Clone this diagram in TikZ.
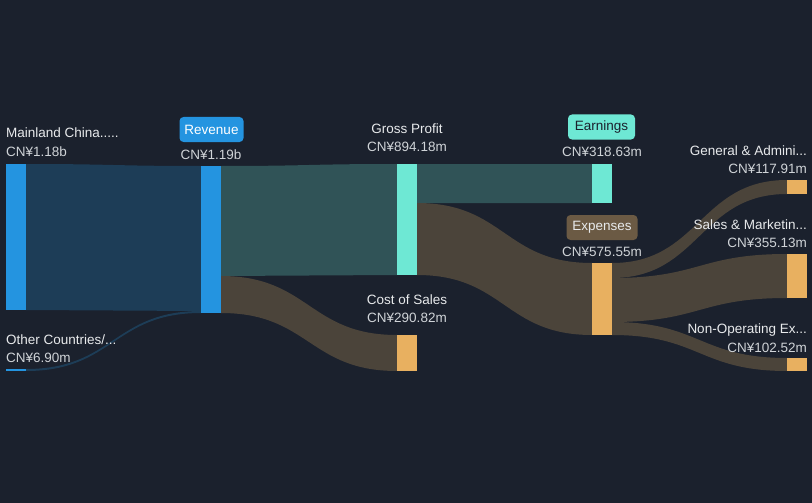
\documentclass[tikz,border=0pt]{standalone}
\usepackage{fontspec}
\setmainfont{Liberation Sans}
\definecolor{bg}{RGB}{27,33,45}
\definecolor{barblue}{RGB}{36,148,224}
\definecolor{barteal}{RGB}{110,232,212}
\definecolor{barorange}{RGB}{232,176,96}
\definecolor{flowblue}{RGB}{29,61,87}
\definecolor{flowteal}{RGB}{48,83,87}
\definecolor{flowbrown}{RGB}{75,68,58}
\definecolor{boxbrown}{RGB}{107,90,68}
\definecolor{txtname}{RGB}{232,234,236}
\definecolor{txtval}{RGB}{208,212,216}
\definecolor{txtdark}{RGB}{27,33,45}
\newcommand\sflow[7]{\fill[#7] (#1,#2) .. controls ({(#1+#4)/2},#2) and ({(#1+#4)/2},#5) .. (#4,#5) -- (#4,#6) .. controls ({(#1+#4)/2},#6) and ({(#1+#4)/2},#3) .. (#1,#3) -- cycle;}
\tikzset{
  bar/.style={draw=none, inner sep=0pt, minimum width=20pt, outer sep=0pt},
  lbl/.style={inner sep=0pt, font=\fontsize{13.5}{16}\selectfont, anchor=base},
  nm/.style={lbl, text=txtname},
  val/.style={lbl, text=txtval},
  tag/.style={rounded corners=4pt, inner sep=0pt, minimum height=25pt, font=\fontsize{13.5}{16}\selectfont, anchor=center},
}
\begin{document}
\begin{tikzpicture}[x=1pt,y=-1pt]
\fill[bg] (0,0) rectangle (812,503);
\useasboundingbox (0,0) rectangle (812,503);
% flows
\sflow{26}{164}{310}{201}{166}{311}{flowblue}
\sflow{26}{369}{371}{201}{311}{313}{flowblue}
\sflow{221}{166}{276}{397}{164}{275}{flowteal}
\sflow{221}{276}{313}{397}{335}{371}{flowbrown}
\sflow{417}{164}{203}{592}{164}{203}{flowteal}
\sflow{417}{203}{275}{592}{263}{335}{flowbrown}
\sflow{612}{263}{278}{787}{180}{194}{flowbrown}
\sflow{612}{278}{322}{787}{254}{298}{flowbrown}
\sflow{612}{322}{335}{787}{358}{371}{flowbrown}
% bars
\node[bar, fill=barblue, minimum height=146pt] (main) at (16,237) {};
\node[bar, fill=barblue, minimum height=2pt] (other) at (16,370) {};
\node[bar, fill=barblue, minimum height=147pt] (rev) at (211,239.5) {};
\node[bar, fill=barteal, minimum height=111pt] (gp) at (407,219.5) {};
\node[bar, fill=barorange, minimum height=36pt] (cos) at (407,353) {};
\node[bar, fill=barteal, minimum height=39pt] (earn) at (602,183.5) {};
\node[bar, fill=barorange, minimum height=72pt] (exp) at (602,299) {};
\node[bar, fill=barorange, minimum height=14pt] (ga) at (797,187) {};
\node[bar, fill=barorange, minimum height=44pt] (sm) at (797,276) {};
\node[bar, fill=barorange, minimum height=13pt] (nonop) at (797,364.5) {};
% labels
\node[nm, anchor=base west] (lmain) at (6,138) {Mainland China.....};
\node[val, anchor=base west] (vmain) at (6,157) {CN¥1.18b};
\node[nm, anchor=base west] (lother) at (6,344) {Other Countries/...};
\node[val, anchor=base west] (vother) at (6,362) {CN¥6.90m};
\node[tag, fill=barblue, text=white, minimum width=64pt] (lrev) at (211.5,129.5) {Revenue};
\node[val] (vrev) at (211,159) {CN¥1.19b};
\node[nm] (lgp) at (407,133) {Gross Profit};
\node[val] (vgp) at (407,151) {CN¥894.18m};
\node[nm] (lcos) at (407,304) {Cost of Sales};
\node[val] (vcos) at (407,322) {CN¥290.82m};
\node[tag, fill=barteal, text=txtdark, minimum width=67pt] (learn) at (601.5,127) {Earnings};
\node[val] (vearn) at (602,157) {CN¥318.63m};
\node[tag, fill=boxbrown, text=txtname, minimum width=71pt] (lexp) at (602,227.5) {Expenses};
\node[val] (vexp) at (602,256) {CN¥575.55m};
\node[nm, anchor=base east] (lga) at (807,155) {General \& Admini...};
\node[val, anchor=base east] (vga) at (807,173) {CN¥117.91m};
\node[nm, anchor=base east] (lsm) at (807,229) {Sales \& Marketin...};
\node[val, anchor=base east] (vsm) at (807,247) {CN¥355.13m};
\node[nm, anchor=base east] (lnon) at (807,333) {Non-Operating Ex...};
\node[val, anchor=base east] (vnon) at (807,352) {CN¥102.52m};
\end{tikzpicture}
\end{document}
